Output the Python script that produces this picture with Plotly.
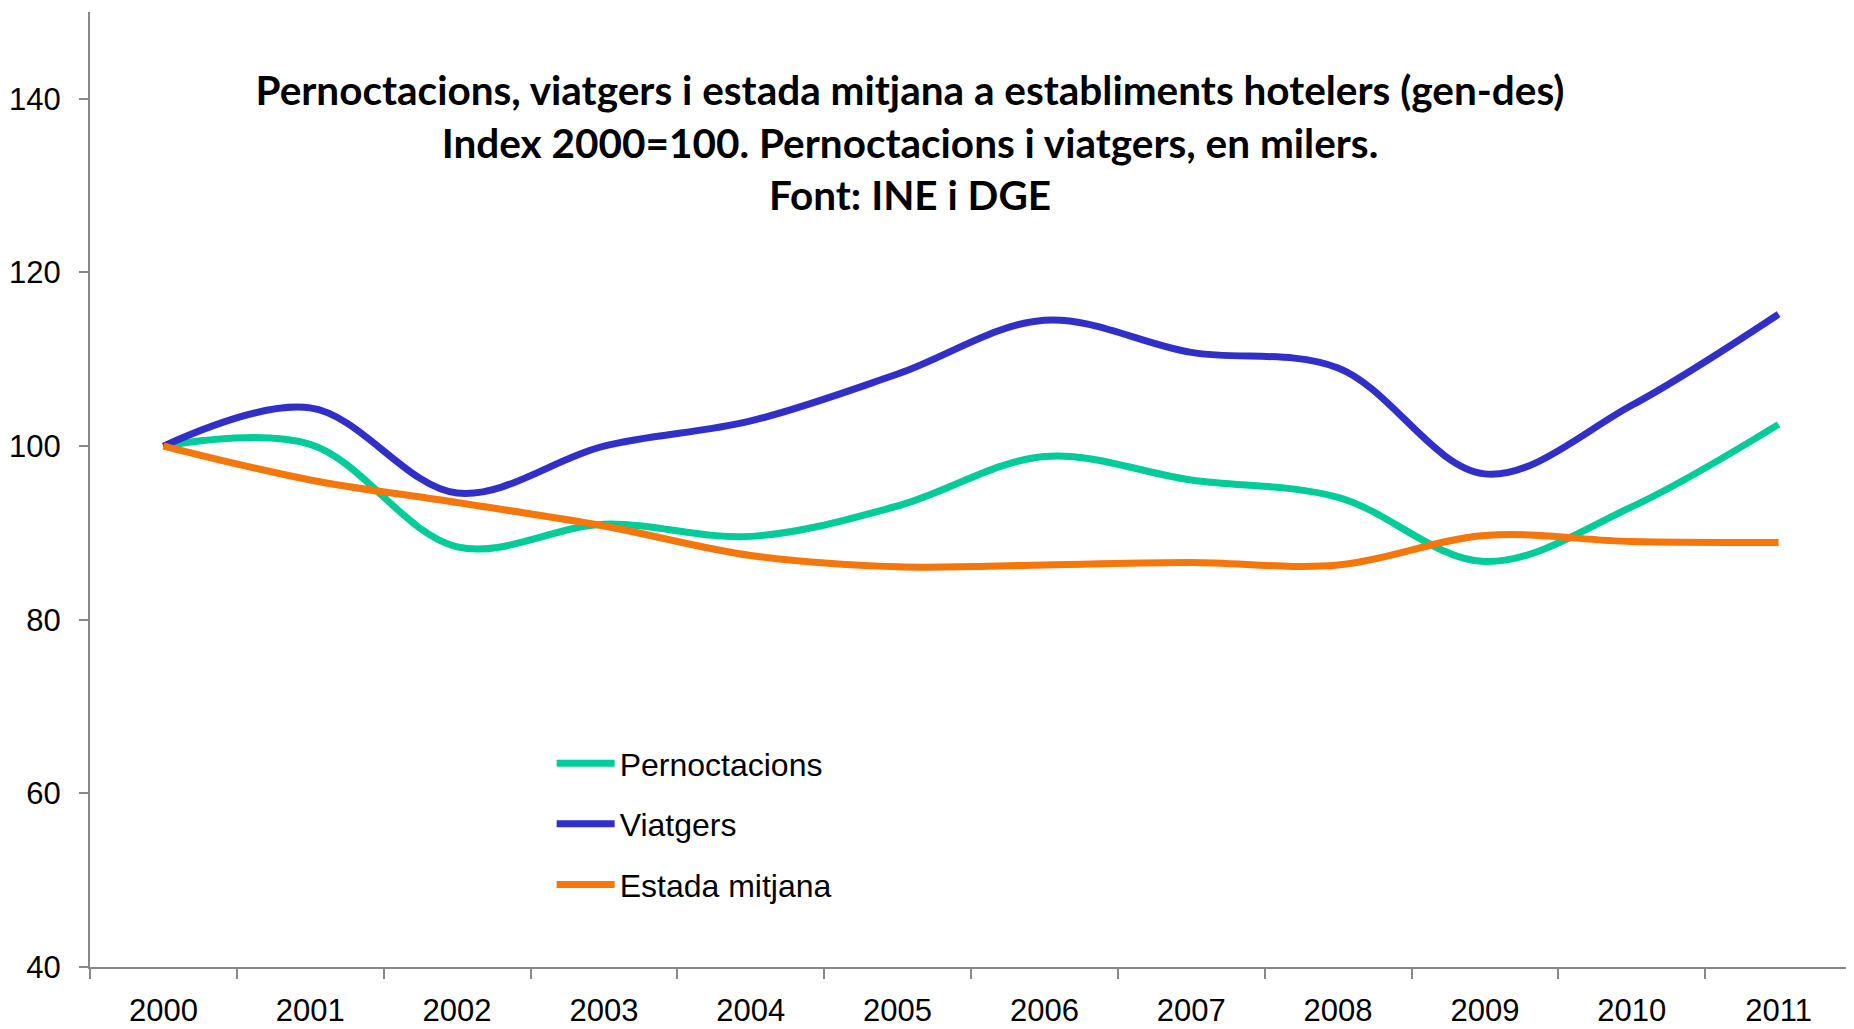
import plotly.graph_objects as go

years = ["2000", "2001", "2002", "2003", "2004", "2005", "2006", "2007", "2008", "2009", "2010", "2011"]
pernoctacions = [100, 100.2, 88.4, 91.0, 89.6, 93.1, 98.8, 96.1, 94.1, 86.7, 93.0, 102.5]
viatgers = [100, 104.4, 94.6, 100.0, 102.9, 108.3, 114.5, 110.8, 109.0, 96.8, 104.7, 115.2]
estada = [100, 96.1, 93.5, 90.8, 87.4, 86.1, 86.3, 86.6, 86.3, 89.7, 89.0, 88.9]

names = ["Pernoctacions", "Viatgers", "Estada mitjana"]
colors = ["#00CC99", "#3030C8", "#F5760A"]
series = [pernoctacions, viatgers, estada]

W, H = 1846, 1021

fig = go.Figure()
for i, (n, c, s) in enumerate(zip(names, colors, series)):
    fig.add_trace(go.Scatter(
        x=years, y=s, name=n, mode="lines", legendgroup=f"g{i}",
        line=dict(color=c, width=7, shape="spline", smoothing=1.0),
    ))

fig.update_layout(
    width=W, height=H,
    margin=dict(l=82, r=2, t=4, b=62),
    plot_bgcolor="white", paper_bgcolor="white",
    font=dict(family="Arial, Liberation Sans, sans-serif", size=31, color="black"),
    title=dict(
        text="Pernoctacions, viatgers i estada mitjana a establiments hotelers (gen-des)<br>"
             "Index 2000=100. Pernoctacions i viatgers, en milers.<br>Font: INE i DGE",
        font=dict(family="Lato", size=40.5, color="black", weight="bold"),
        x=902/W, xanchor="center", xref="container",
        y=1 - 97/H, yanchor="top", yref="container",
    ),
    showlegend=True,
    legend=dict(
        x=0.262, y=0.242, xanchor="left", yanchor="top",
        bgcolor="rgba(0,0,0,0)", font=dict(size=32),
        itemwidth=58, tracegroupgap=16, traceorder="grouped",
    ),
    xaxis=dict(
        type="category", range=[-0.5, 11.5], automargin=False,
        showline=True, linecolor="#888888", linewidth=2,
        ticks="outside", ticklen=10, tickcolor="#888888", tickwidth=2,
        tickson="boundaries", showgrid=False, zeroline=False,
        ticklabelstandoff=15,
    ),
    yaxis=dict(
        range=[40, 150], tickvals=[40, 60, 80, 100, 120, 140], automargin=False,
        showline=True, linecolor="#888888", linewidth=2,
        ticks="outside", ticklen=9, tickcolor="#888888", tickwidth=2,
        showgrid=False, zeroline=False, ticklabelstandoff=12,
    ),
)

fig.write_html("out.html")
